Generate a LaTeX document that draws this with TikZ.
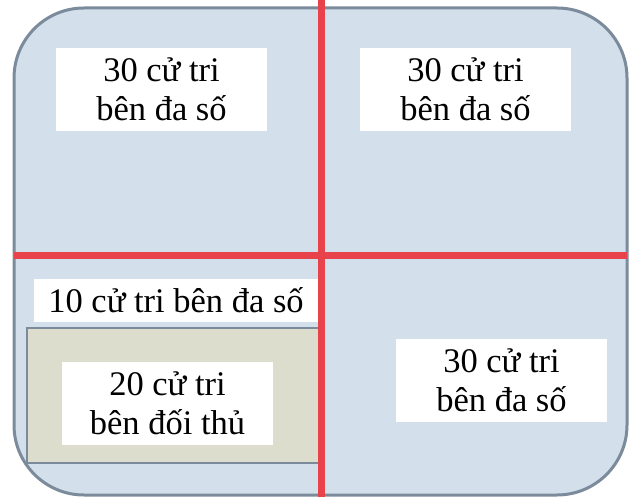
\documentclass[tikz,border=0pt]{standalone}
\usepackage{fontspec}
\setmainfont{Liberation Serif}
\definecolor{bgblue}{HTML}{D3E0EC}
\definecolor{edgegray}{HTML}{7B8B9B}
\definecolor{redline}{HTML}{E8434B}
\definecolor{khaki}{HTML}{DCDDCC}
\begin{document}
\begin{tikzpicture}[x=1pt,y=-1pt,
  label box/.style={fill=white, inner sep=0pt, align=center,
    minimum width=211pt, minimum height=83pt,
    font=\fontsize{34.5}{39}\selectfont},
  wide box/.style={fill=white, inner sep=0pt, align=center,
    minimum width=284pt, minimum height=43pt,
    font=\fontsize{34.5}{39}\selectfont}]
\useasboundingbox (0,0) rectangle (637,497);
\begin{scope}
\clip (0,0) rectangle (637,497);
\draw[edgegray, line width=3pt, fill=bgblue, rounded corners=70pt]
  (14,8) rectangle (627,495);
\end{scope}
% khaki area
\draw[edgegray, line width=2.5pt, fill=khaki] (318,328) -- (27,328) -- (27,463) -- (318,463);
% red lines
\draw[redline, line width=7pt] (14,255) -- (627,255);
\draw[redline, line width=7pt] (321,0) -- (321,497);
% labels
\node[label box] (tl) at (161.5,89.5) {30 cử tri\\bên đa số};
\node[label box] (tr) at (465.5,89.5) {30 cử tri\\bên đa số};
\node[wide box] (mid) at (176,300) {10 cử tri bên đa số};
\node[label box] (opp) at (167.5,403) {20 cử tri\\bên đối thủ};
\node[label box] (br) at (501.5,380.5) {30 cử tri\\bên đa số};
\end{tikzpicture}
\end{document}
